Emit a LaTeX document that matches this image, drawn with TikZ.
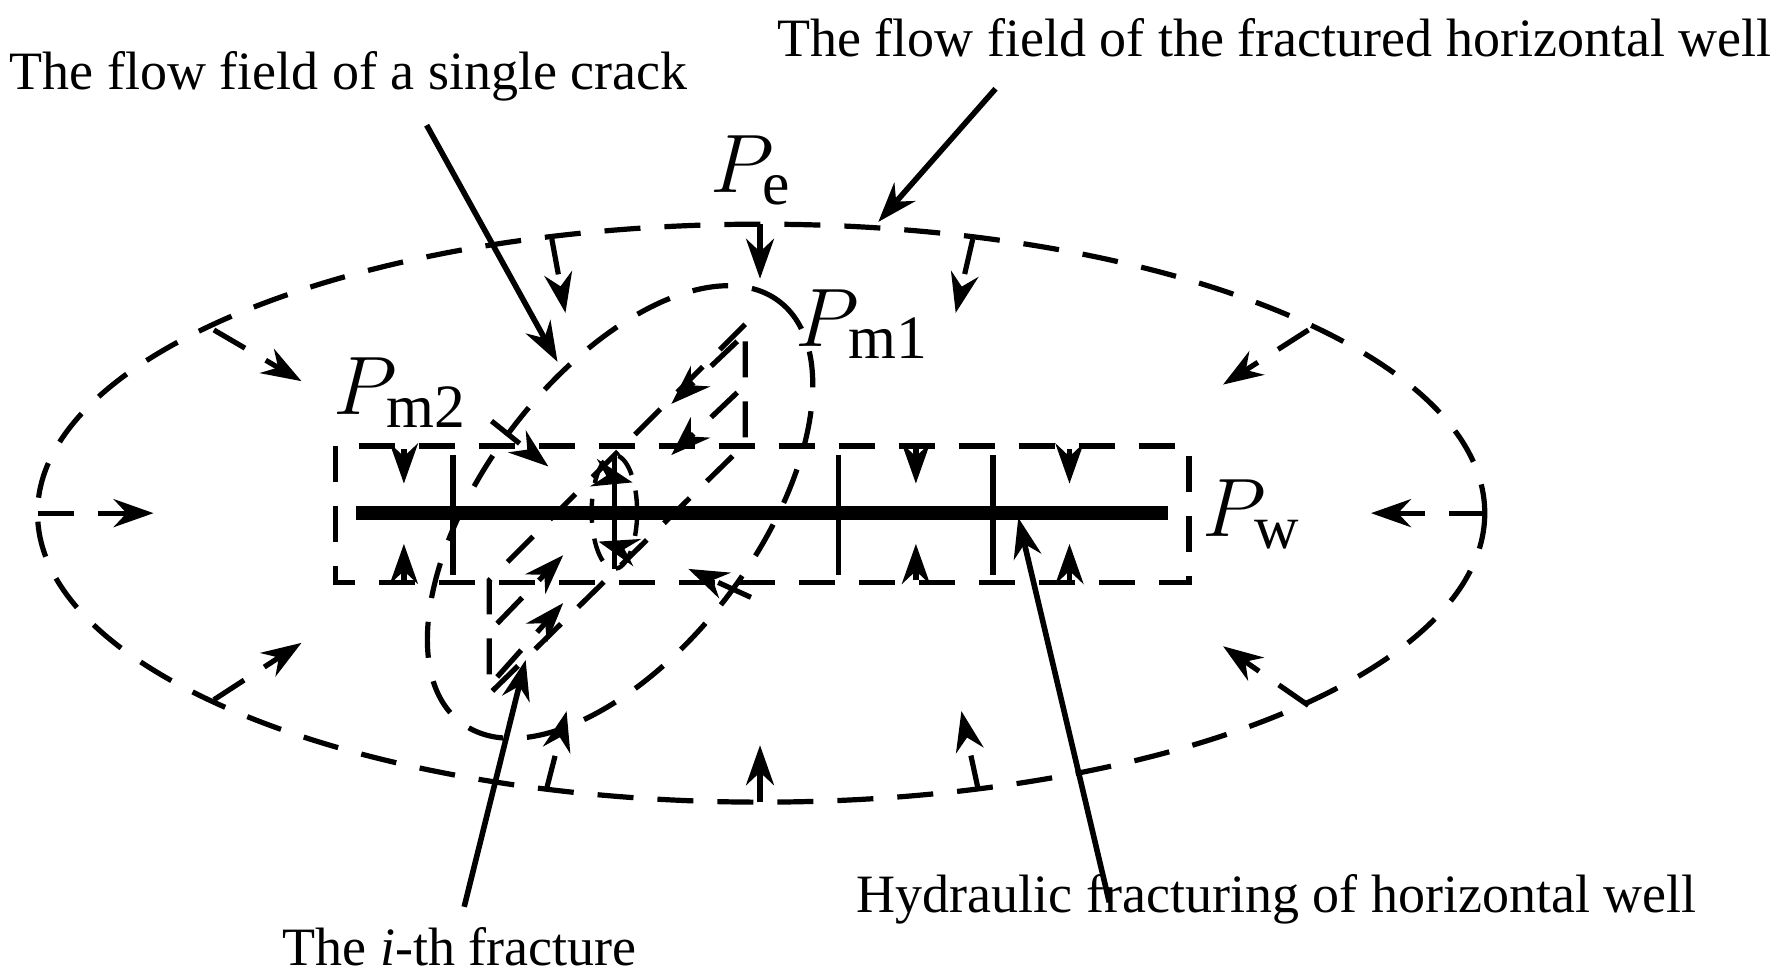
\documentclass[tikz,border=0pt]{standalone}
\usepackage{fontspec}
\setmainfont{Liberation Serif}
\usetikzlibrary{arrows.meta}
\begin{document}
\begin{tikzpicture}[x=0.01cm,y=-0.01cm,
  dsh/.style={line width=1.3pt,dash pattern=on 9pt off 6pt},
  ar/.style={-{Stealth[length=10pt,width=7pt]}},
  lbl/.style={font=\fontsize{13.5}{16}\selectfont,inner sep=0pt},
  pl/.style={font=\fontsize{22}{26}\selectfont,inner sep=0pt},
  sol/.style={line width=1.4pt}]
\useasboundingbox (0,0) rectangle (1568,859);
% outer ellipse
\draw[dsh] (669,451) ellipse [x radius=636,y radius=254];
% crack ellipse
\draw[dsh] (545,450) ellipse [x radius=232,y radius=120,rotate=53];
% rectangle
\draw[dsh] (295,392) rectangle (1045,512);
% well
\draw[line width=3.5pt] (313,451) -- (1027,451);
\foreach \x in {398,737,873} \draw[sol] (\x,400) -- (\x,505);
\foreach \x in {355,805,940}{
  \draw[sol,ar] (\x,395) -- (\x,425);
  \draw[sol,ar] (\x,510) -- (\x,478);}
% fracture plane
\draw[dsh] (655,285) -- (430,510) -- (430,610) -- (655,390) -- cycle;
\draw[dsh,ar] (648,300) -- (590,355);
\draw[dsh,ar] (648,345) -- (590,400);
\draw[dsh,ar] (437,548) -- (495,488);
\draw[dsh,ar] (437,595) -- (495,530);
\draw[sol] (540,400) -- (540,500);
\draw[line width=1.1pt,dash pattern=on 6pt off 4pt] (540,450) ellipse [x radius=20,y radius=50];
\draw[sol,ar] (540,420) -- (556,424);
\draw[sol,ar] (540,480) -- (526,476);
% crack inward arrows
\draw[dsh,ar] (432,370) -- (482,410);
\draw[dsh,ar] (660,525) -- (605,500);
% outer inward arrows
\draw[dsh,ar] (33,451) -- (135,451);
\draw[dsh,ar] (1305,451) -- (1205,451);
\draw[dsh,ar] (668,197) -- (668,245);
\draw[dsh,ar] (485,210) -- (497,275);
\draw[dsh,ar] (855,210) -- (840,275);
\draw[dsh,ar] (188,290) -- (265,335);
\draw[dsh,ar] (1150,290) -- (1075,338);
\draw[dsh,ar] (188,615) -- (265,565);
\draw[dsh,ar] (1150,620) -- (1075,568);
\draw[dsh,ar] (480,695) -- (498,625);
\draw[dsh,ar] (668,705) -- (668,655);
\draw[dsh,ar] (860,695) -- (845,625);
% labels
\node[lbl,anchor=east] (t1) at (1558,33) {The flow field of the fractured horizontal well};
\node[lbl,anchor=west] (t2) at (8,67) {The flow field of a single crack};
\node[lbl] (t3) at (1122,790) {Hydraulic fracturing of horizontal well};
\node[lbl] (t4) at (404,832) {The \textit{i}-th fracture};
\node[pl] (pe) at (660,150) {$P_{\mathrm{e}}$};
\node[pl] (pm1) at (758,285) {$P_{\mathrm{m1}}$};
\node[pl] (pm2) at (352,345) {$P_{\mathrm{m2}}$};
\node[pl] (pw) at (1100,452) {$P_{\mathrm{w}}$};
\coordinate (a1) at (875,78); \coordinate (b1) at (772,195);
\coordinate (a2) at (375,110); \coordinate (b2) at (490,318);
\coordinate (a3) at (408,797); \coordinate (b3) at (462,580);
\coordinate (a4) at (975,793); \coordinate (b4) at (895,455);
\draw[sol,ar] (a1) -- (b1);
\draw[sol,ar] (a2) -- (b2);
\draw[sol,ar] (a3) -- (b3);
\draw[sol,ar] (a4) -- (b4);
\end{tikzpicture}
\end{document}
